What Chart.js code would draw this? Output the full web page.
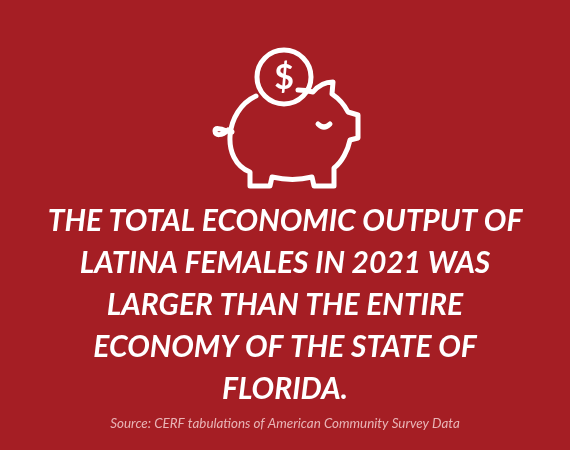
<!DOCTYPE html>
<html><head><meta charset="utf-8">
<script src="https://cdn.jsdelivr.net/npm/chart.js@4"></script>
<style>
html,body{margin:0;padding:0;background:#A51E24;}
#wrap{position:relative;width:570px;height:450px;}
canvas{position:absolute;left:0;top:0;}
svg{position:absolute;left:0;top:0;}
</style></head><body>
<div id="wrap">
<canvas id="c" width="570" height="450"></canvas>
<svg width="570" height="450" viewBox="0 0 570 450" fill="none" stroke="#fff" stroke-width="5" stroke-linecap="round" stroke-linejoin="round">
  <circle cx="284" cy="77" r="27"/>
  <text x="284" y="89" text-anchor="middle" fill="#fff" stroke="none" font-family="Lato" font-weight="bold" font-size="34">$</text>
  <path d="M256 96 C 225 110 220 160 250 172 L 250 186 L 270 186 L 272 177 C 285 180 300 180 312 177 L 314 186 L 334 186 L 334 168 C 342 162 348 150 350 140 L 358 138 L 358 115 L 348 112 C 344 104 338 98 332 94 L 333 82 C 325 82 318 86 313 92 C 306 90 300 90 298 90"/>
  <path d="M232 132 C 222 130 215 126 215 131 C 215 136 222 136 228 130"/>
  <path d="M318 124 Q 324 130 330 124"/>
</svg>
</div>
<script>
const headline = ["THE TOTAL ECONOMIC OUTPUT OF","LATINA FEMALES IN 2021 WAS","LARGER THAN THE ENTIRE","ECONOMY OF THE STATE OF","FLORIDA."];
const source = "Source: CERF tabulations of American Community Survey Data";
const categories = [];
const values = [];
new Chart(document.getElementById('c'), {
  type: 'bar',
  data: { labels: categories, datasets: [{ data: values }] },
  options: {
    responsive: false, animation: false,
    layout: { padding: { top: 200, bottom: 18 } },
    scales: { x: { display: false }, y: { display: false } },
    plugins: {
      legend: { display: false }, tooltip: { enabled: false },
      title: { display: true, text: headline, color: '#fff',
        font: { family: 'Lato', size: 30, weight: 'bold', style: 'italic', lineHeight: 1.4 }, padding: 0 },
      subtitle: { display: true, text: source, position: 'bottom', color: '#E8B4B6',
        font: { family: 'Lato', size: 13.4, style: 'italic' }, padding: 0 }
    }
  }
});
</script>
</body></html>
